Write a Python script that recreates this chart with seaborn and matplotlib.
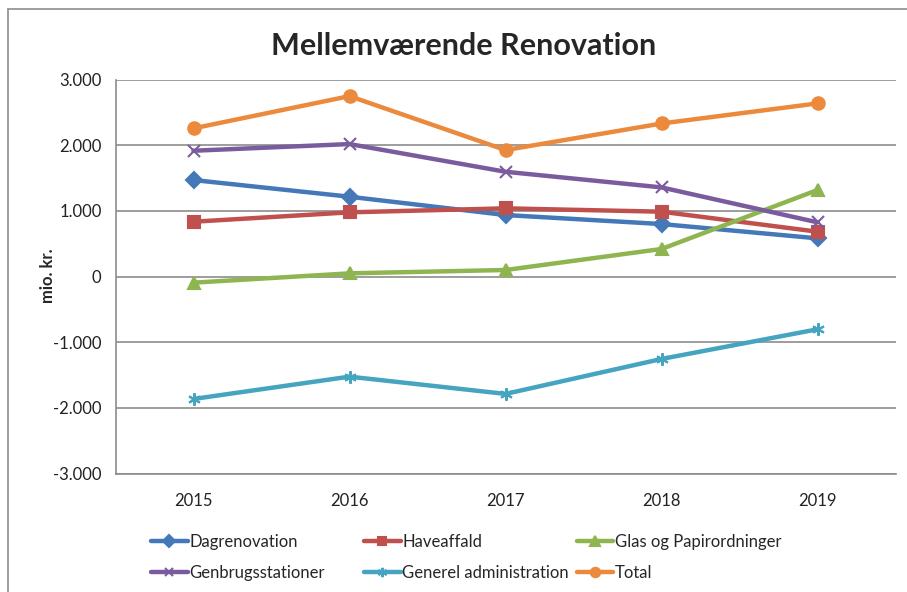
import numpy as np
import pandas as pd
import matplotlib
matplotlib.use("Agg")
import matplotlib.pyplot as plt
import seaborn as sns
from matplotlib.ticker import FuncFormatter, MultipleLocator

# ===== data (1.000 kr. units) =====
years = ["2015", "2016", "2017", "2018", "2019"]
dagrenovation = [1469, 1215, 936, 799, 581]
haveaffald = [834, 977, 1038, 987, 682]
glas_papir = [-94, 48, 99, 419, 1317]
genbrug = [1915, 2017, 1595, 1357, 825]
generel_adm = [-1865, -1525, -1788, -1256, -804]
total = [2256, 2747, 1925, 2330, 2636]

series_names = ["Dagrenovation", "Haveaffald", "Glas og Papirordninger",
                "Genbrugsstationer", "Generel administration", "Total"]
series_values = [dagrenovation, haveaffald, glas_papir, genbrug, generel_adm, total]

colors = ["#4478B8", "#C0504D", "#8FB550", "#7A5C9E", "#45A5C0", "#EB8A3C"]
markers = ["D", "s", "^", "x", (6, 2, 0), "o"]
msizes = [8, 8.5, 9, 8, 9, 9]

sns.set_style("white")
plt.rcParams['font.family'] = ['Lato', 'DejaVu Sans']

fig = plt.figure(figsize=(9.07, 5.92), dpi=100)
ax = fig.add_axes([115.5 / 907, (592 - 473.5) / 592, 780 / 907, (473.5 - 79.5) / 592])

x_pos = np.arange(len(years))
for name, vals, c, m, ms in zip(series_names, series_values, colors, markers, msizes):
    sns.lineplot(x=x_pos, y=vals, color=c, marker=m, markersize=ms,
                 markeredgewidth=1.5, markeredgecolor=c, markerfacecolor=c,
                 linewidth=3.2, ax=ax, label=name, legend=False)

ax.set_xlim(-0.5, 4.5)
ax.set_ylim(-3000, 3000)
ax.set_xticks(x_pos)
ax.set_xticklabels(years)
ax.yaxis.set_major_locator(MultipleLocator(1000))
ax.yaxis.set_major_formatter(FuncFormatter(
    lambda v, p: "0" if v == 0 else f"{v / 1000:.3f}"))
ax.tick_params(axis="both", length=0, labelsize=12, colors="#222222")
ax.tick_params(axis="x", pad=14)
ax.tick_params(axis="y", pad=10)
ax.grid(axis="y", color="#8C8C8C", linewidth=1.2)
ax.set_axisbelow(True)
for side in ["top", "right"]:
    ax.spines[side].set_visible(False)
for side in ["left", "bottom"]:
    ax.spines[side].set_color("#8C8C8C")
    ax.spines[side].set_linewidth(1.2)
ax.set_xlabel("")
ax.set_ylabel("")

fig.text(48 / 907, 1 - 276 / 592, "mio. kr.", rotation=90, ha="center", va="center",
         fontsize=12, fontweight="bold")
fig.text(464 / 907, 1 - 46 / 592, "Mellemværende Renovation", ha="center", va="center",
         fontsize=22, fontweight="bold")

# outer chart border
fig.patches.append(plt.Rectangle((8 / 907, -0.1), 1.2, 1 - 9 / 592 + 0.1,
                                 transform=fig.transFigure, fill=False,
                                 edgecolor="#8C8C8C", linewidth=1.2))

# legend: three equal-width columns, two rows each
columns = [[0, 3], [1, 4], [2, 5]]
col_x = [136, 349, 561.5]
for idx, cx in zip(columns, col_x):
    fig.legend([ax.lines[i] for i in idx], [series_names[i] for i in idx],
               loc="upper left", bbox_to_anchor=(cx / 907, 1 - 519 / 592),
               frameon=False, fontsize=12, handlelength=2.2, handletextpad=0.1,
               labelspacing=0.9, markerscale=0.75)

fig.savefig("out.png", dpi=100)
